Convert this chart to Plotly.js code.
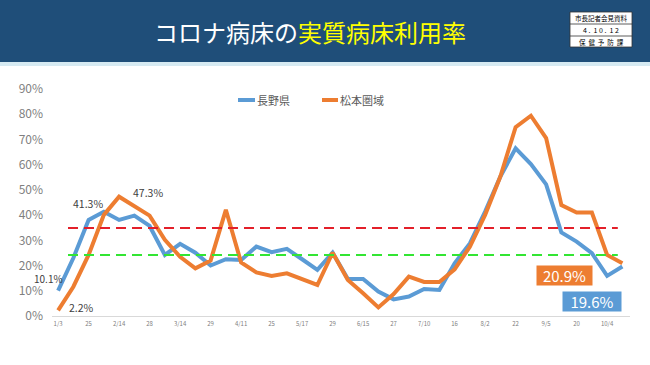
<!DOCTYPE html>
<html>
<head>
<meta charset="utf-8">
<script src="https://cdn.plot.ly/plotly-3.0.1.min.js"></script>
<style>html,body{margin:0;padding:0;background:#fff;}#chart{width:650px;height:365px;}</style>
</head>
<body>
<div id="chart"></div>
<script>
// ---- data ----
const tickLabels = ["1/3","25","2/14","28","3/14","29","4/11","25","5/17","29","6/15","27","7/10","16","8/2","22","9/5","20","10/4"];
const nagano = [10.1,23.0,38.1,41.3,38.1,39.8,35.7,24.2,28.6,25.1,20.0,22.5,22.2,27.5,25.3,26.6,22.5,18.3,25.1,
                14.7,14.7,9.7,6.6,7.7,10.7,10.3,20.9,28.8,41.4,55.3,66.5,60.2,52.2,33.1,29.5,24.9,15.9,19.6];
const matsumoto = [2.2,11.6,24.2,40.1,47.3,43.4,39.8,30.2,23.5,18.9,22.0,42.1,21.2,17.3,15.9,16.9,14.7,12.3,25.1,
                14.3,9.0,3.4,8.7,15.6,13.5,13.5,18.5,27.5,40.1,55.3,74.9,79.4,70.5,44.0,41.0,41.0,24.2,20.9];
const seriesNames = ["長野県","松本圏域"];
const seriesColors = ["#5B9BD5","#ED7D31"];
const redLevel = 34.9;
const greenLevel = 24.2;
const yTicks = [0,10,20,30,40,50,60,70,80,90];

const idx = nagano.map((_, i) => i);
const tickVals = tickLabels.map((_, i) => i * 2);

// ---- layout helpers (pixel -> paper) ----
const L = 52, R = 20, T = 89, B = 49, W = 650, H = 365;
const pw = W - L - R, ph = H - T - B;
const px = x => (x - L) / pw;
const py = y => (H - B - y) / ph;

const traces = [
  {x: idx, y: nagano, name: seriesNames[0], type: "scatter", mode: "lines",
   line: {color: seriesColors[0], width: 4}},
  {x: idx, y: matsumoto, name: seriesNames[1], type: "scatter", mode: "lines",
   line: {color: seriesColors[1], width: 4}}
];

const last = idx.length - 1;
const fmt = v => v.toFixed(1) + "%";
const FF = "Noto Sans CJK JP, sans-serif";
const labFont = {family: FF, size: 10.5, color: "#404040"};
const boxFont = {family: FF, size: 6.5, color: "#000"};

const annotations = [
  {xref: "paper", yref: "paper", x: px(310), y: py(31), xanchor: "center", yanchor: "middle", showarrow: false,
   text: '<span style="color:#ffffff">コロナ病床の</span><span style="color:#FFFF00">実質病床利用率</span>',
   font: {family: FF, size: 24}},
  {xref: "paper", yref: "paper", x: px(601), y: py(18), xanchor: "center", yanchor: "middle", showarrow: false,
   text: "市長記者会見資料", font: boxFont},
  {xref: "paper", yref: "paper", x: px(601), y: py(30), xanchor: "center", yanchor: "middle", showarrow: false,
   text: "4 .  1 0 .  1 2", font: {family: FF, size: 7, color: "#000"}},
  {xref: "paper", yref: "paper", x: px(601), y: py(41.5), xanchor: "center", yanchor: "middle", showarrow: false,
   text: "保  健  予  防  課", font: boxFont},
  // custom legend texts
  {xref: "paper", yref: "paper", x: px(255), y: py(100), xanchor: "left", yanchor: "middle", showarrow: false,
   text: seriesNames[0], font: {family: FF, size: 11, color: "#595959"}},
  {xref: "paper", yref: "paper", x: px(338), y: py(100), xanchor: "left", yanchor: "middle", showarrow: false,
   text: seriesNames[1], font: {family: FF, size: 11, color: "#595959"}},
  // data labels
  {x: 0, y: nagano[0], text: fmt(nagano[0]), showarrow: false, xanchor: "center", yanchor: "middle",
   xshift: -10, yshift: 12.5, font: {family: FF, size: 10, color: "#404040"}},
  {x: 0, y: matsumoto[0], text: fmt(matsumoto[0]), showarrow: false, xanchor: "center", yanchor: "middle",
   xshift: 23, yshift: 3, font: labFont},
  {x: 3, y: nagano[3], text: fmt(nagano[3]), showarrow: false, xanchor: "center", yanchor: "middle",
   xshift: -16, yshift: 8, font: labFont},
  {x: 4, y: matsumoto[4], text: fmt(matsumoto[4]), showarrow: false, xanchor: "center", yanchor: "middle",
   xshift: 29, yshift: 4, font: labFont},
  {x: last, y: matsumoto[last], text: fmt(matsumoto[last]), showarrow: false, xanchor: "center", yanchor: "middle",
   xshift: -58, yshift: -12, bgcolor: seriesColors[1], width: 53, height: 17, borderpad: 1,
   font: {family: FF, size: 15, color: "#ffffff"}},
  {x: last, y: nagano[last], text: fmt(nagano[last]), showarrow: false, xanchor: "center", yanchor: "middle",
   xshift: -30, yshift: -35, bgcolor: seriesColors[0], width: 56, height: 17, borderpad: 1,
   font: {family: FF, size: 15, color: "#ffffff"}}
];

const shapes = [
  {type: "rect", xref: "paper", yref: "paper", x0: px(0), x1: px(650), y0: py(0), y1: py(62),
   fillcolor: "#1F4E79", line: {width: 0}, layer: "below"},
  {type: "rect", xref: "paper", yref: "paper", x0: px(0), x1: px(650), y0: py(62), y1: py(66),
   fillcolor: "#D6EAF2", line: {width: 0}, layer: "below"},
  {type: "rect", xref: "paper", yref: "paper", x0: px(570), x1: px(632), y0: py(12), y1: py(47),
   fillcolor: "#ffffff", line: {color: "#333", width: 0.8}},
  {type: "line", xref: "paper", yref: "paper", x0: px(570), x1: px(632), y0: py(24), y1: py(24),
   line: {color: "#333", width: 0.8}},
  {type: "line", xref: "paper", yref: "paper", x0: px(570), x1: px(632), y0: py(36), y1: py(36),
   line: {color: "#333", width: 0.8}},
  // custom legend lines
  {type: "line", xref: "paper", yref: "paper", x0: px(238), x1: px(255), y0: py(100), y1: py(100),
   line: {color: seriesColors[0], width: 4}},
  {type: "line", xref: "paper", yref: "paper", x0: px(322), x1: px(338), y0: py(100), y1: py(100),
   line: {color: seriesColors[1], width: 4}},
  // threshold lines
  {type: "line", xref: "x", yref: "y", x0: 0.65, x1: 36.7, y0: redLevel, y1: redLevel,
   line: {color: "#E3202A", width: 2, dash: "10px,6px"}},
  {type: "line", xref: "x", yref: "y", x0: 0.65, x1: 36.7, y0: greenLevel, y1: greenLevel,
   line: {color: "#33E533", width: 2, dash: "10px,6px"}}
];

const layout = {
  width: W, height: H,
  margin: {l: L, r: R, t: T, b: B, pad: 0},
  paper_bgcolor: "#ffffff", plot_bgcolor: "#ffffff",
  font: {family: FF, color: "#595959"},
  showlegend: false,
  xaxis: {range: [-0.4, 37.5], tickmode: "array", tickvals: tickVals, ticktext: tickLabels,
          showgrid: false, zeroline: false, showline: true, linecolor: "#D9D9D9", linewidth: 1,
          ticks: "", tickfont: {size: 6, color: "#808080"}, ticklabelstandoff: 2, fixedrange: true},
  yaxis: {range: [0, 90], tickvals: yTicks, ticktext: yTicks.map(v => v + "%"),
          showgrid: false, zeroline: false, showline: false, ticks: "",
          tickfont: {size: 12, color: "#7F7F7F"}, ticklabelstandoff: 8, fixedrange: true},
  annotations: annotations,
  shapes: shapes
};

Plotly.newPlot("chart", traces, layout, {displayModeBar: false, staticPlot: true});
</script>
</body>
</html>
